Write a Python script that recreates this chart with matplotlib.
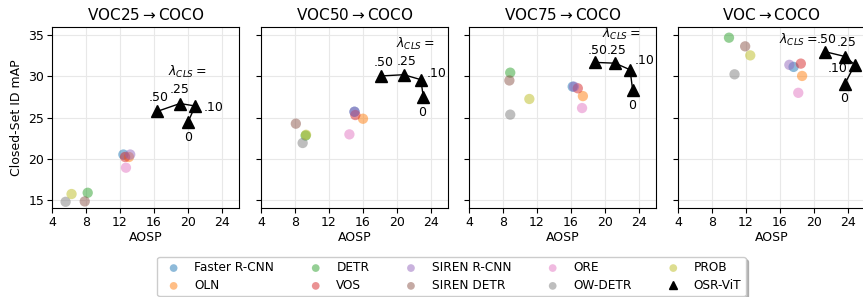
import matplotlib
matplotlib.use("Agg")
import matplotlib.pyplot as plt

titles = ["VOC25$\\rightarrow$COCO", "VOC50$\\rightarrow$COCO", "VOC75$\\rightarrow$COCO", "VOC$\\rightarrow$COCO"]
methods = ["Faster R-CNN", "OLN", "DETR", "VOS", "SIREN R-CNN", "SIREN DETR", "ORE", "OW-DETR", "PROB"]
colors = ["tab:blue", "tab:orange", "tab:green", "tab:red", "tab:purple", "tab:brown", "tab:pink", "tab:gray", "tab:olive"]

# baseline (AOSP, mAP) per panel, in methods order
aosp_voc25 = [12.4, 13.05, 8.2, 12.6, 13.2, 7.85, 12.7, 5.6, 6.3]
map_voc25 = [20.5, 20.2, 15.85, 20.2, 20.5, 14.8, 18.9, 14.75, 15.7]
aosp_voc50 = [15.0, 16.0, 9.25, 15.1, 15.0, 8.1, 14.4, 8.9, 9.3]
map_voc50 = [25.7, 24.85, 22.8, 25.3, 25.7, 24.25, 22.95, 21.9, 22.9]
aosp_voc75 = [16.2, 17.4, 8.85, 16.8, 16.35, 8.75, 17.3, 8.85, 11.1]
map_voc75 = [28.75, 27.6, 30.45, 28.55, 28.75, 29.5, 26.15, 25.35, 27.25]
aosp_voc = [17.6, 18.6, 10.0, 18.45, 17.1, 11.9, 18.15, 10.65, 12.5]
map_voc = [31.15, 30.05, 34.7, 31.55, 31.4, 33.65, 28.0, 30.25, 32.55]

# OSR-ViT at lambda_CLS = 0, .10, .25, .50
lam_labels = ["0", ".10", ".25", ".50"]
osr_aosp = [[20.0, 20.85, 19.05, 16.4],
            [23.1, 22.8, 20.8, 18.1],
            [23.25, 22.95, 21.2, 18.8],
            [23.6, 24.8, 23.7, 21.3]]
osr_map = [[24.45, 26.4, 26.7, 25.75],
           [27.5, 29.6, 30.2, 30.05],
           [28.35, 30.8, 31.6, 31.7],
           [29.05, 31.4, 32.4, 33.0]]

base_x = [aosp_voc25, aosp_voc50, aosp_voc75, aosp_voc]
base_y = [map_voc25, map_voc50, map_voc75, map_voc]

# label positions (data coords) for lambda texts
lam_title_pos = [(19.9, 30.5), (22.1, 34.0), (21.9, 35.1), (18.2, 34.4)]
lam_text_pos = [[(20.0, 22.6), (23.0, 26.2), (19.0, 28.35), (16.6, 27.4)],
                [(23.0, 25.6), (24.7, 30.3), (21.1, 31.85), (18.4, 31.7)],
                [(23.2, 26.4), (24.6, 31.9), (21.4, 33.2), (19.1, 33.2)],
                [(23.5, 27.3), (22.75, 30.9), (23.8, 34.1), (21.5, 34.5)]]

plt.rcParams['font.family'] = ['DejaVu Sans']
W, H = 863, 297
fig = plt.figure(figsize=(W / 100, H / 100), dpi=100)
lefts = [52, 261, 469, 678]
axw, axh = 187, 181
bottom = 297 - 208
axes = []
for i, l in enumerate(lefts):
    ax = fig.add_axes([l / W, bottom / H, axw / W, axh / H], sharey=axes[0] if axes else None)
    axes.append(ax)

handles = []
for i, ax in enumerate(axes):
    for j, m in enumerate(methods):
        h = ax.scatter(base_x[i][j], base_y[i][j], s=55, color=colors[j], alpha=0.5,
                       edgecolors='none', label=m, zorder=3)
        if i == 0:
            handles.append(h)
    ln, = ax.plot(osr_aosp[i], osr_map[i], color='black', lw=1, marker='^', ms=8,
                  label='OSR-ViT', zorder=4)
    if i == 0:
        handles.append(ln)
    ax.text(lam_title_pos[i][0], lam_title_pos[i][1], "$\\lambda_{CLS}=$", ha='center', va='center', fontsize=9)
    for k, lab in enumerate(lam_labels):
        ax.text(lam_text_pos[i][k][0], lam_text_pos[i][k][1], lab, ha='center', va='center', fontsize=9)
    ax.set_xlim(4, 26)
    ax.set_ylim(14, 36)
    ax.set_xticks([4, 8, 12, 16, 20, 24])
    ax.set_yticks([15, 20, 25, 30, 35])
    ax.grid(True, color='#e8e8e8', lw=0.8, zorder=0)
    ax.set_axisbelow(True)
    ax.set_title(titles[i], fontsize=11, pad=5)
    ax.set_xlabel("AOSP", fontsize=9, labelpad=2)
    ax.tick_params(labelsize=9, pad=2)
    if i > 0:
        ax.tick_params(labelleft=False)
axes[0].set_ylabel("Closed-Set ID mAP", fontsize=9, labelpad=4)

leg = fig.legend(handles=handles, labels=methods + ["OSR-ViT"], ncol=5,
                 loc='upper center', bbox_to_anchor=(451.5 / W, (H - 257) / H), fontsize=8.7,
                 shadow={'color': '0.55', 'alpha': 0.6}, fancybox=True, columnspacing=2.45,
                 handletextpad=0.7, markerscale=0.75, borderaxespad=0,
                 borderpad=0.35, labelspacing=0.4)
for lh in leg.legend_handles:
    try:
        lh.set_linestyle('none')
    except Exception:
        pass

fig.savefig("out.png", dpi=100)
